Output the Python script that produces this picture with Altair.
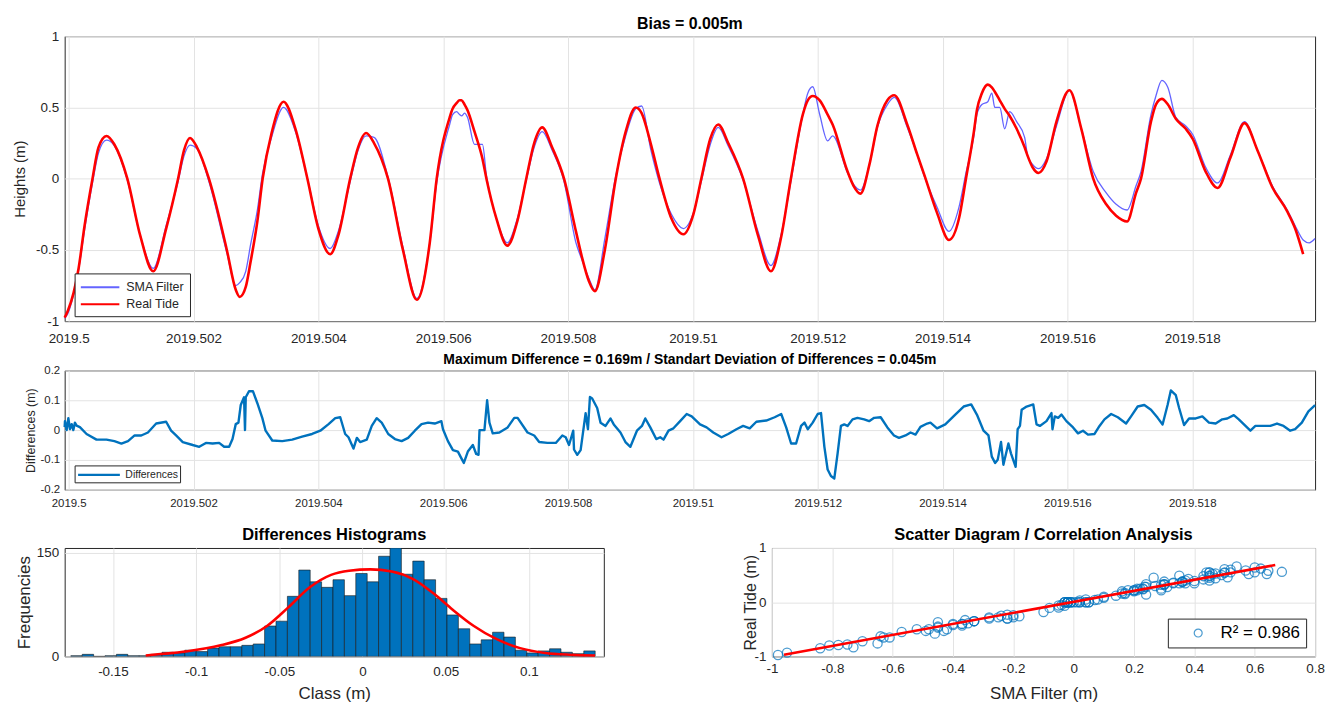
import altair as alt
import pandas as pd

# ---------------------------------------------------------------- data
T0 = 2019.5                 # decimal-year origin
TIME_UNIT = 1000.0          # offsets below are thousandths of a year after T0
X_LIMITS = [-0.064, 19.968]
X_TICKS = [2019.5, 2019.502, 2019.504, 2019.506, 2019.508, 2019.51,
           2019.512, 2019.514, 2019.516, 2019.518]

tide_t = [-0.064, -0.016, 0.080, 0.159, 0.255, 0.382, 0.478, 0.606, 0.733, 0.940,
          1.147, 1.355, 1.562, 1.753, 1.849, 1.944, 2.056, 2.247, 2.534, 2.677,
          2.741, 2.837, 2.916, 3.023, 3.108, 3.251, 3.442, 3.633, 3.825, 4.000,
          4.191, 4.319, 4.510, 4.637, 4.765, 4.892, 5.116, 5.355, 5.578, 5.785,
          5.896, 6.104, 6.151, 6.215, 6.263, 6.295, 6.343, 6.390, 6.502, 6.629,
          6.693, 6.853, 7.028, 7.187, 7.331, 7.458, 7.586, 7.745, 7.936, 8.127,
          8.223, 8.335, 8.430, 8.590, 8.765, 8.924, 9.084, 9.179, 9.323, 9.466,
          9.657, 9.849, 10.008, 10.135, 10.279, 10.406, 10.566, 10.805, 11.044, 11.251,
          11.410, 11.570, 11.761, 11.841, 11.920, 12.032, 12.159, 12.239, 12.478, 12.574,
          12.685, 12.829, 12.956, 13.116, 13.227, 13.434, 13.594, 13.705, 13.912, 14.104,
          14.263, 14.375, 14.502, 14.550, 14.630, 14.725, 14.789, 14.837, 14.916, 14.996,
          15.076, 15.187, 15.315, 15.363, 15.442, 15.538, 15.665, 15.825, 16.032, 16.223,
          16.414, 16.622, 16.781, 16.956, 17.100, 17.179, 17.339, 17.418, 17.514, 17.610,
          17.737, 17.896, 18.008, 18.215, 18.406, 18.614, 18.837, 19.044, 19.283, 19.522,
          19.649, 19.777, 19.873, 19.968]

real_tide = [-0.975, -0.93, -0.80, -0.63, -0.33, 0.00, 0.22, 0.30, 0.24, 0.00,
             -0.40, -0.65, -0.35, 0.00, 0.20, 0.285, 0.22, 0.00, -0.50, -0.78,
             -0.83, -0.76, -0.58, -0.30, 0.00, 0.32, 0.54, 0.35, 0.00, -0.35,
             -0.53, -0.40, 0.00, 0.22, 0.32, 0.25, 0.00, -0.50, -0.85, -0.45,
             0.00, 0.43, 0.49, 0.53, 0.55, 0.55, 0.52, 0.48, 0.33, 0.14,
             0.00, -0.28, -0.47, -0.30, 0.00, 0.25, 0.36, 0.22, 0.00, -0.37,
             -0.55, -0.72, -0.79, -0.50, 0.00, 0.33, 0.50, 0.46, 0.25, 0.00,
             -0.28, -0.39, -0.25, 0.00, 0.28, 0.38, 0.25, 0.00, -0.40, -0.65,
             -0.42, 0.00, 0.45, 0.55, 0.58, 0.55, 0.45, 0.38, 0.05, -0.05,
             -0.105, 0.10, 0.37, 0.55, 0.585, 0.38, 0.17, 0.03, -0.24, -0.43,
             -0.28, 0.00, 0.33, 0.48, 0.60, 0.66, 0.64, 0.61, 0.55, 0.49,
             0.44, 0.35, 0.22, 0.16, 0.08, 0.04, 0.12, 0.40, 0.62, 0.35,
             0.00, -0.18, -0.26, -0.30, -0.10, 0.00, 0.40, 0.52, 0.56, 0.52,
             0.42, 0.35, 0.28, 0.05, -0.065, 0.15, 0.39, 0.20, -0.06, -0.23,
             -0.35, -0.53, None, None]

sma_filter = [-0.98, -0.95, -0.81, -0.64, -0.36, -0.03, 0.18, 0.27, 0.23, -0.01,
              -0.40, -0.63, -0.33, -0.02, 0.16, 0.235, 0.21, -0.02, -0.52, -0.75,
              -0.73, -0.65, -0.46, -0.22, 0.04, 0.29, 0.50, 0.33, 0.00, -0.33,
              -0.49, -0.37, -0.02, 0.20, 0.30, 0.29, 0.01, -0.48, -0.84, -0.45,
              -0.03, 0.38, 0.45, 0.47, 0.45, 0.44, 0.46, 0.43, 0.24, 0.24,
              0.02, -0.28, -0.45, -0.28, -0.01, 0.22, 0.33, 0.20, -0.02, -0.45,
              -0.57, -0.70, -0.78, -0.42, 0.02, 0.30, 0.49, 0.51, 0.21, -0.03,
              -0.25, -0.35, -0.24, -0.02, 0.24, 0.36, 0.23, -0.01, -0.37, -0.61,
              -0.40, -0.02, 0.45, 0.60, 0.645, 0.45, 0.265, 0.30, 0.04, -0.04,
              -0.08, 0.10, 0.36, 0.52, 0.57, 0.36, 0.17, 0.02, -0.20, -0.37,
              -0.20, 0.04, 0.30, 0.45, 0.52, 0.54, 0.60, 0.50, 0.50, 0.35,
              0.47, 0.40, 0.29, 0.16, 0.10, 0.07, 0.14, 0.37, 0.62, 0.35,
              0.05, -0.10, -0.18, -0.22, -0.05, 0.05, 0.45, 0.58, 0.69, 0.64,
              0.43, 0.37, 0.31, 0.08, -0.03, 0.17, 0.40, 0.20, -0.05, -0.22,
              -0.33, -0.43, -0.45, -0.42]

diff_t = [-0.064, -0.059, -0.032, -0.005, 0.021, 0.048, 0.075, 0.100, 0.127, 0.180,
          0.287, 0.446, 0.606, 0.733, 0.845, 0.951, 1.057, 1.163, 1.270, 1.402,
          1.562, 1.641, 1.721, 1.828, 1.987, 2.092, 2.199, 2.306, 2.411, 2.491,
          2.571, 2.625, 2.677, 2.720, 2.757, 2.810, 2.825, 2.837, 2.889, 2.953,
          3.023, 3.103, 3.155, 3.262, 3.422, 3.581, 3.740, 3.900, 4.032, 4.164,
          4.271, 4.351, 4.430, 4.483, 4.563, 4.617, 4.669, 4.776, 4.856, 4.935,
          5.015, 5.120, 5.227, 5.334, 5.439, 5.546, 5.653, 5.758, 5.865, 5.971,
          5.997, 6.076, 6.156, 6.236, 6.290, 6.331, 6.395, 6.475, 6.529, 6.566,
          6.582, 6.661, 6.704, 6.741, 6.794, 6.900, 7.033, 7.139, 7.192, 7.351,
          7.458, 7.538, 7.670, 7.804, 7.909, 7.963, 8.016, 8.084, 8.096, 8.148,
          8.202, 8.282, 8.319, 8.351, 8.387, 8.467, 8.521, 8.601, 8.681, 8.733,
          8.840, 8.920, 8.999, 9.104, 9.184, 9.238, 9.318, 9.413, 9.477, 9.530,
          9.610, 9.689, 9.796, 9.901, 9.981, 10.115, 10.220, 10.327, 10.459, 10.566,
          10.698, 10.805, 10.911, 11.017, 11.176, 11.310, 11.415, 11.495, 11.574, 11.654,
          11.734, 11.788, 11.841, 11.920, 12.000, 12.053, 12.107, 12.159, 12.212, 12.266,
          12.319, 12.372, 12.425, 12.478, 12.558, 12.637, 12.744, 12.824, 12.904, 13.009,
          13.116, 13.222, 13.302, 13.407, 13.487, 13.567, 13.646, 13.753, 13.806, 13.912,
          14.044, 14.204, 14.338, 14.459, 14.550, 14.657, 14.736, 14.789, 14.842, 14.884,
          14.937, 14.975, 15.055, 15.096, 15.171, 15.203, 15.240, 15.267, 15.347, 15.453,
          15.506, 15.559, 15.665, 15.745, 15.761, 15.798, 15.852, 15.904, 15.984, 16.091,
          16.170, 16.250, 16.330, 16.435, 16.515, 16.594, 16.701, 16.808, 16.940, 17.020,
          17.126, 17.232, 17.339, 17.446, 17.525, 17.605, 17.657, 17.737, 17.790, 17.869,
          17.949, 18.056, 18.162, 18.268, 18.375, 18.481, 18.561, 18.666, 18.746, 18.853,
          18.932, 19.012, 19.119, 19.251, 19.358, 19.463, 19.570, 19.649, 19.756, 19.861,
          19.968]

differences = [0.01, 0.03, 0.0, 0.04, 0.003, 0.02, 0.0, 0.025, 0.015, 0.01,
               -0.013, -0.032, -0.032, -0.037, -0.045, -0.037, -0.018, -0.018, -0.008, 0.022,
               0.028, -0.002, -0.018, -0.04, -0.05, -0.056, -0.043, -0.045, -0.043, -0.056,
               -0.056, -0.03, 0.02, 0.025, 0.084, 0.11, 0.0, 0.11, 0.13, 0.13,
               0.09, 0.04, -0.002, -0.035, -0.037, -0.032, -0.022, -0.013, -0.002, 0.02,
               0.04, 0.043, -0.013, -0.024, -0.062, -0.026, -0.04, -0.032, 0.014, 0.04,
               0.025, -0.013, -0.03, -0.037, -0.026, -0.002, 0.02, 0.025, 0.022, 0.03,
               0.003, -0.037, -0.067, -0.072, -0.094, -0.11, -0.072, -0.05, -0.08, -0.083,
               0.0, 0.0, 0.10, 0.025, -0.011, -0.008, 0.009, 0.041, 0.041, -0.008,
               -0.018, -0.04, -0.043, -0.043, -0.018, -0.024, -0.05, -0.002, -0.065, -0.083,
               -0.067, 0.057, 0.003, 0.111, 0.106, 0.074, 0.025, 0.014, 0.039, 0.019,
               -0.008, -0.04, -0.056, -0.002, 0.014, 0.039, 0.009, -0.03, -0.024, -0.032,
               -0.002, 0.006, 0.03, 0.054, 0.046, 0.019, 0.009, -0.008, -0.024, -0.013,
               0.003, 0.014, 0.006, 0.028, 0.032, 0.043, 0.054, 0.009, -0.045, -0.045,
               0.014, 0.025, 0.003, 0.025, 0.054, 0.057, -0.056, -0.132, -0.154, -0.162,
               -0.078, 0.014, 0.019, 0.014, 0.036, 0.041, 0.036, 0.03, 0.041, 0.043,
               0.009, -0.018, -0.026, -0.018, -0.008, -0.015, 0.011, 0.022, 0.025, 0.006,
               0.019, 0.052, 0.079, 0.086, 0.052, -0.002, -0.018, -0.089, -0.11, -0.099,
               -0.04, -0.116, -0.045, -0.078, -0.123, 0.003, 0.014, 0.068, 0.079, 0.086,
               0.019, 0.014, 0.03, 0.057, 0.003, 0.046, 0.041, 0.052, 0.03, 0.009,
               -0.011, -0.002, -0.015, -0.013, 0.014, 0.036, 0.054, 0.043, 0.022, 0.046,
               0.079, 0.084, 0.068, 0.041, 0.019, 0.084, 0.133, 0.117, 0.074, 0.017,
               0.039, 0.039, 0.046, 0.025, 0.022, 0.036, 0.039, 0.05, 0.036, 0.014,
               -0.002, 0.014, 0.014, 0.014, 0.022, 0.014, -0.002, 0.003, 0.025, 0.063,
               0.084]

hist_counts = [1, 3, 0, 1, 3, 1, 1, 3, 6, 5,
               9, 7, 12, 14, 14, 16, 18, 44, 51, 87,
               125, 108, 100, 111, 88, 120, 108, 145, 157, 119,
               138, 111, 84, 60, 40, 18, 24, 35, 28, 9,
               5, 8, 11, 6, 4, 8]
HIST_FIRST_EDGE = -0.1753
HIST_BIN_WIDTH = 0.00685

normal_fit_x = [-0.1303, -0.1067, -0.0853, -0.0703, -0.0574, -0.0446, -0.0317, -0.0189,
                -0.0081, 0.0047, 0.0176, 0.0304, 0.0433, 0.054, 0.0669, 0.0797,
                0.0947, 0.1097, 0.1247, 0.1397]
normal_fit_y = [1.4, 7, 16, 27, 44, 71, 100, 118, 124, 126, 123, 112, 90, 68, 44, 26,
                12, 5, 2.4, 1.4]

regression_x = [-0.96, 0.668]
regression_y = [-0.97, 0.685]
R2_LABEL = "R² = 0.986"

# ---------------------------------------------------------------- style
FONT = "Liberation Sans"
INK = "#262626"
GRID = "#e3e3e3"
BLUE = "#0072BD"
SMA_BLUE = "#6464ff"
RED = "#ff0000"
NUM_LBL = "datum.value < 0 ? '-' + format(-datum.value, '~g') : format(datum.value, '~g')"
TIME_LBL = "format(datum.value, '.3~f')"


def axis(**kw):
    base = dict(domain=False, ticks=False, grid=True, gridColor=GRID, gridWidth=1,
                labelColor=INK, titleColor=INK, labelFont=FONT, titleFont=FONT,
                titleFontWeight="normal", labelFlush=False, labelOverlap=False)
    base.update(kw)
    return alt.Axis(**base)


def title(text, size, offset):
    return alt.TitleParams(text, fontSize=size, fontWeight="bold", font=FONT,
                           color="black", offset=offset, anchor="middle")


def independent(c):
    return c.resolve_scale(color="independent").resolve_legend(color="independent")


time_scale = alt.Scale(domain=[T0 + X_LIMITS[0] / TIME_UNIT, T0 + X_LIMITS[1] / TIME_UNIT],
                       nice=False, zero=False)

# ---------------------------------------------------------------- top: tides
rows = []
for t, r, s in zip(tide_t, real_tide, sma_filter):
    tm = T0 + t / TIME_UNIT
    rows.append({"time": tm, "height": s, "series": "SMA Filter"})
    if r is not None:
        rows.append({"time": tm, "height": r, "series": "Real Tide"})
tide_long = pd.DataFrame(rows)

series_domain = ["SMA Filter", "Real Tide"]
top_legend = alt.Legend(title=None, orient="none", legendX=10, legendY=238.5,
                        strokeColor=INK, fillColor="white", padding=5,
                        symbolType="M-1,0H4", symbolSize=240, symbolStrokeWidth=2,
                        labelOffset=29, labelFont=FONT, labelFontSize=12.5,
                        labelColor=INK, rowPadding=1)


def tide_layer(name, width):
    return alt.Chart(tide_long).transform_filter(alt.datum.series == name).mark_line(
        interpolate="monotone", strokeWidth=width).encode(
        x=alt.X("time:Q", scale=time_scale,
                axis=axis(values=X_TICKS, labelExpr=TIME_LBL, title=None,
                          labelFontSize=13.5, labelPadding=10)),
        y=alt.Y("height:Q", scale=alt.Scale(domain=[-1, 1], nice=False),
                axis=axis(values=[-1, -0.5, 0, 0.5, 1], labelExpr=NUM_LBL,
                          title="Heights (m)", labelFontSize=13.5, titleFontSize=15,
                          labelPadding=6, titlePadding=8)),
        color=alt.Color("series:N", scale=alt.Scale(domain=series_domain,
                                                    range=[SMA_BLUE, RED]),
                        legend=top_legend),
    )


top = alt.layer(tide_layer("SMA Filter", 1.3), tide_layer("Real Tide", 2.6)).properties(
    width=1257, height=286.5, title=title("Bias = 0.005m", 16, -2.5))

# ---------------------------------------------------------------- middle: differences
diff_df = pd.DataFrame({"time": [T0 + t / TIME_UNIT for t in diff_t],
                        "diff": differences,
                        "series": ["Differences"] * len(diff_t)})
mid_legend = alt.Legend(title=None, orient="none", legendX=10, legendY=95.5,
                        strokeColor=INK, fillColor="white", padding=2,
                        symbolType="M-1,0H6", symbolSize=144, symbolStrokeWidth=2.4,
                        labelOffset=34, labelFont=FONT, labelFontSize=10.5,
                        labelColor=INK)
mid = alt.Chart(diff_df).mark_line(strokeWidth=2.4, strokeJoin="round").encode(
    x=alt.X("time:Q", scale=time_scale,
            axis=axis(values=X_TICKS, labelExpr=TIME_LBL, title=None,
                      labelFontSize=11.5, labelPadding=8)),
    y=alt.Y("diff:Q", scale=alt.Scale(domain=[-0.2, 0.2], nice=False),
            axis=axis(values=[-0.2, -0.1, 0, 0.1, 0.2], labelExpr=NUM_LBL,
                      title="Differences (m)", labelFontSize=11.5, titleFontSize=12.5,
                      labelPadding=5, titlePadding=3)),
    color=alt.Color("series:N", scale=alt.Scale(domain=["Differences"], range=[BLUE]),
                    legend=mid_legend),
).properties(width=1257, height=120,
             title=title("Maximum Difference = 0.169m / Standart Deviation of Differences = 0.045m", 14, -3))

# ---------------------------------------------------------------- bottom-left: histogram
edges = [HIST_FIRST_EDGE + i * HIST_BIN_WIDTH for i in range(len(hist_counts) + 1)]
hist_df = pd.DataFrame({"lo": edges[:-1], "hi": edges[1:], "count": hist_counts})
fit_df = pd.DataFrame({"x": normal_fit_x, "y": normal_fit_y})
hx = alt.Scale(domain=[-0.179, 0.145], nice=False, zero=False)
hy = alt.Scale(domain=[0, 157], nice=False)
bars = alt.Chart(hist_df).mark_bar(color=BLUE, stroke="#1a1a1a", strokeWidth=0.6,
                                   clip=True).encode(
    x=alt.X("lo:Q", scale=hx,
            axis=axis(values=[-0.15, -0.1, -0.05, 0, 0.05, 0.1], labelExpr=NUM_LBL,
                      title="Class (m)", labelFontSize=13.5, titleFontSize=17,
                      labelPadding=8, titlePadding=8)),
    x2="hi:Q",
    y=alt.Y("count:Q", scale=hy,
            axis=axis(values=[0, 50, 100, 150], title="Frequencies", labelFontSize=13.5,
                      titleFontSize=17, labelPadding=6, titlePadding=2.5)),
    y2=alt.datum(0),
)
curve = alt.Chart(fit_df).mark_line(color=RED, strokeWidth=2.6, interpolate="monotone").encode(
    x=alt.X("x:Q", scale=hx), y=alt.Y("y:Q", scale=hy))
hist = alt.layer(bars, curve).properties(width=542, height=109,
                                         title=title("Differences Histograms", 16.5, 2.5))

# ---------------------------------------------------------------- bottom-right: scatter
pairs = [(s, r) for s, r in zip(sma_filter, real_tide) if r is not None]
sc_df = pd.DataFrame({"sma": [p[0] for p in pairs], "real": [p[1] for p in pairs],
                      "label": [R2_LABEL] * len(pairs)})
reg_df = pd.DataFrame({"x": regression_x, "y": regression_y})
sx = alt.Scale(domain=[-1, 0.8], nice=False, zero=False)
sy = alt.Scale(domain=[-1, 1], nice=False)
sc_legend = alt.Legend(title=None, orient="none", legendX=398, legendY=71,
                       strokeColor=INK, fillColor="white", padding=6,
                       symbolType="circle", symbolSize=64, symbolStrokeWidth=1.2,
                       symbolOffset=16, labelOffset=14, labelFont=FONT,
                       labelFontSize=17, labelColor="black")
points = alt.Chart(sc_df).mark_point(shape="circle", filled=False, size=85,
                                     strokeWidth=1.3).encode(
    x=alt.X("sma:Q", scale=sx,
            axis=axis(values=[-1, -0.8, -0.6, -0.4, -0.2, 0, 0.2, 0.4, 0.6, 0.8],
                      labelExpr=NUM_LBL, title="SMA Filter (m)", labelFontSize=13.5,
                      titleFontSize=17, labelPadding=5, titlePadding=11)),
    y=alt.Y("real:Q", scale=sy,
            axis=axis(values=[-1, 0, 1], labelExpr=NUM_LBL, title="Real Tide (m)",
                      labelFontSize=13.5, titleFontSize=16, labelPadding=6,
                      titlePadding=-4)),
    color=alt.Color("label:N", scale=alt.Scale(domain=[R2_LABEL], range=[BLUE]),
                    legend=sc_legend),
)
reg = alt.Chart(reg_df).mark_line(color=RED, strokeWidth=2.6).encode(
    x=alt.X("x:Q", scale=sx), y=alt.Y("y:Q", scale=sy))
scat = alt.layer(points, reg).properties(
    width=546, height=109, title=title("Scatter Diagram / Correlation Analysis", 16.5, -2.5))

# ---------------------------------------------------------------- layout
upper = independent(alt.vconcat(top, mid, spacing=49, bounds="flush"))
lower = independent(alt.hconcat(hist, scat, spacing=169, bounds="flush"))
chart = independent(alt.vconcat(upper, lower, spacing=16.5, bounds="full")).properties(
    padding={"left": 12, "top": 13.5, "right": 5, "bottom": 2}
).configure(background="white", font=FONT).configure_view(stroke=INK, strokeWidth=1)

chart.save("out.html", embed_options={"renderer": "svg", "actions": False})
